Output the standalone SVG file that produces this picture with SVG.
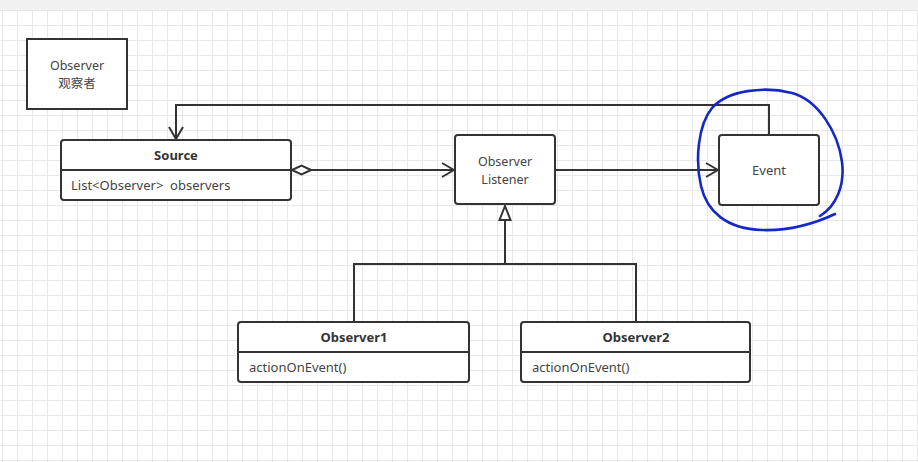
<svg xmlns="http://www.w3.org/2000/svg" width="918" height="462" viewBox="0 0 918 462">
  <style>
    .box { fill: #ffffff; stroke: #333333; stroke-width: 2; }
    .div { stroke: #333333; stroke-width: 2; fill: none; }
    .edge { stroke: #333333; stroke-width: 2; fill: none; }
    text { font-family: "Noto Sans", "Noto Sans CJK SC", sans-serif; font-size: 13px; fill: #444444; }
    .title { font-weight: bold; text-anchor: middle; fill: #333333; }
    .mid { text-anchor: middle; }
    .pair { font-size: 12.5px; }
    .ink { stroke: #1428c8; stroke-width: 2.6; fill: none; stroke-linecap: round; stroke-linejoin: round; }
  </style>
  <defs>
    <pattern id="grid" width="15" height="15" patternUnits="userSpaceOnUse" x="2" y="10">
      <path d="M0.5 0 V15 M0 0.5 H15" stroke="#e8e8e8" stroke-width="1" fill="none"/>
    </pattern>
    <marker id="open" markerUnits="userSpaceOnUse" viewBox="0 0 14 16" markerWidth="14" markerHeight="16" refX="13" refY="8" orient="auto">
      <path d="M1 1 L13 8 L1 15" fill="none" stroke="#333333" stroke-width="2"/>
    </marker>
    <marker id="diamond" markerUnits="userSpaceOnUse" viewBox="0 0 21 12" markerWidth="21" markerHeight="12" refX="1" refY="6" orient="auto">
      <path d="M1 6 L10.5 1.5 L20 6 L10.5 10.5 Z" fill="#ffffff" stroke="#333333" stroke-width="2"/>
    </marker>
    <marker id="hollow" markerUnits="userSpaceOnUse" viewBox="0 0 17 14" markerWidth="17" markerHeight="14" refX="15" refY="7" orient="auto">
      <path d="M1 1.5 L15 7 L1 12.5 Z" fill="#ffffff" stroke="#333333" stroke-width="2"/>
    </marker>
  </defs>

  <!-- canvas -->
  <rect x="0" y="0" width="918" height="462" fill="#ffffff"/>
  <rect x="0" y="10" width="918" height="452" fill="url(#grid)"/>
  <rect x="0" y="0" width="918" height="10" fill="#f1f1f1"/>

  <!-- connectors -->
  <g id="connectors">
    <path class="edge" d="M769 134 V105 H176 V139" marker-end="url(#open)"/>
    <path class="edge" d="M292 170 H454" marker-start="url(#diamond)" marker-end="url(#open)"/>
    <path class="edge" d="M556 170 H718" marker-end="url(#open)"/>
    <path class="edge" d="M505 264 V206" marker-end="url(#hollow)"/>
    <path class="edge" d="M354 322 V264 H636 V322"/>
  </g>

  <!-- nodes -->
  <g id="observer-note">
    <rect class="box" x="27" y="39" width="100" height="70"/>
    <text class="mid pair" x="77" y="70">Observer</text>
    <text class="mid pair" x="77" y="88">观察者</text>
  </g>

  <g id="source">
    <rect class="box" x="61" y="140" width="230" height="60" rx="3"/>
    <line class="div" x1="61" y1="170" x2="291" y2="170"/>
    <text class="title" x="176" y="160">Source</text>
    <text x="71" y="190" xml:space="preserve">List&lt;Observer&gt;  observers</text>
  </g>

  <g id="observer-listener">
    <rect class="box" x="455" y="135" width="100" height="69" rx="3"/>
    <text class="mid pair" x="505" y="166">Observer</text>
    <text class="mid pair" x="505" y="184">Listener</text>
  </g>

  <g id="event">
    <rect class="box" x="719" y="135" width="100" height="70" rx="3"/>
    <text class="mid" x="769" y="175">Event</text>
  </g>

  <g id="observer1">
    <rect class="box" x="238" y="322" width="231" height="60" rx="3"/>
    <line class="div" x1="238" y1="352" x2="469" y2="352"/>
    <text class="title" x="354" y="342">Observer1</text>
    <text x="249" y="372">actionOnEvent()</text>
  </g>

  <g id="observer2">
    <rect class="box" x="521" y="322" width="229" height="60" rx="3"/>
    <line class="div" x1="521" y1="352" x2="750" y2="352"/>
    <text class="title" x="636" y="342">Observer2</text>
    <text x="532" y="372">actionOnEvent()</text>
  </g>

  <!-- hand-drawn circle around Event -->
  <path class="ink" d="M820 216 C836 206 845 186 842 162 C838 132 818 100 792 93 C764 86 728 90 712 108 C698 125 695 160 701 186 C707 212 727 229 762 230 C792 231 818 222 835 214"/>
</svg>
